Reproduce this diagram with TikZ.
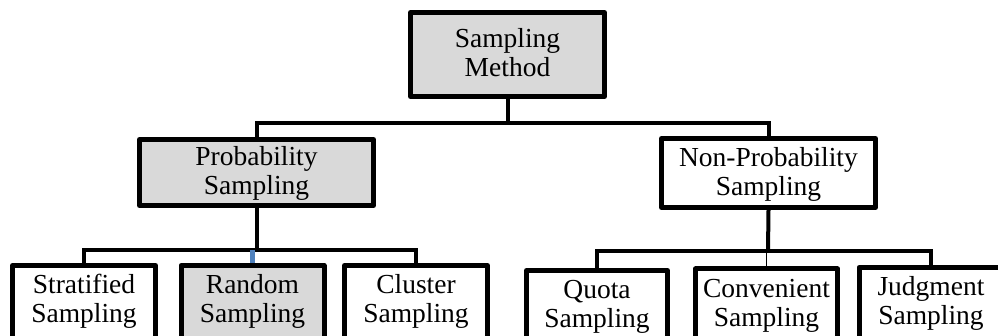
\documentclass[tikz,border=0pt]{standalone}
\usepackage{fontspec}
\setmainfont{Liberation Serif}
\definecolor{boxgray}{RGB}{217,217,217}
\definecolor{linkblue}{RGB}{79,129,189}
\begin{document}
\begin{tikzpicture}[x=1pt,y=-1pt,
  box/.style={draw=black, line width=5pt, line join=round, inner sep=0pt, align=center,
    font=\fontsize{27.5}{29}\selectfont, text height=47pt, text depth=2pt},
  grey/.style={fill=boxgray},
  lowbox/.style={box, text depth=12pt, minimum height=80pt},
  conn/.style={draw=black, line width=4pt},
  blueconn/.style={draw=linkblue, line width=4.5pt},
  thinconn/.style={draw=black, line width=1.2pt}
]
\useasboundingbox (0,0) rectangle (998,336);
\clip (0,0) rectangle (998,336);
% boxes
\node[box,grey,minimum width=194pt,minimum height=84pt] (top) at (507.5,54.5) {Sampling\\Method};
\node[box,grey,minimum width=234pt,minimum height=66pt] (prob) at (256.5,172.5) {Probability\\Sampling};
\node[box,minimum width=214pt,minimum height=69pt] (nonprob) at (768.5,173) {Non-Probability\\Sampling};
\node[lowbox,minimum width=143pt] (strat) at (84,305.5) {Stratified\\Sampling};
\node[lowbox,grey,minimum width=143pt] (random) at (252.5,305.5) {Random\\Sampling};
\node[lowbox,minimum width=143pt] (cluster) at (416,305.5) {Cluster\\Sampling};
\node[lowbox,minimum width=141pt] (quota) at (597,310.5) {Quota\\Sampling};
\node[lowbox,minimum width=142pt] (conv) at (766.5,309) {Convenient\\Sampling};
\node[lowbox,minimum width=144pt] (judg) at (931,307.5) {Judgment\\Sampling};
% junctions
\coordinate (jTop) at (507.5,123);
\coordinate (jL) at (256.5,250.5);
\coordinate (jR) at (768,251.5);
% connectors
\draw[conn] (top.south) -- (jTop);
\draw[conn] (prob.north) |- (jTop) -| (nonprob.north);
\draw[conn] (prob.south) -- (jL);
\draw[conn] (strat.north) |- (jL) -| (cluster.north);
\draw[blueconn] (random.north) -- (random.north |- jL);
\draw[conn] (nonprob.south) -- (jR);
\draw[conn] (quota.north) |- (jR) -| (judg.north);
\draw[thinconn] (conv.north) -- (conv.north |- jR);
\end{tikzpicture}
\end{document}
